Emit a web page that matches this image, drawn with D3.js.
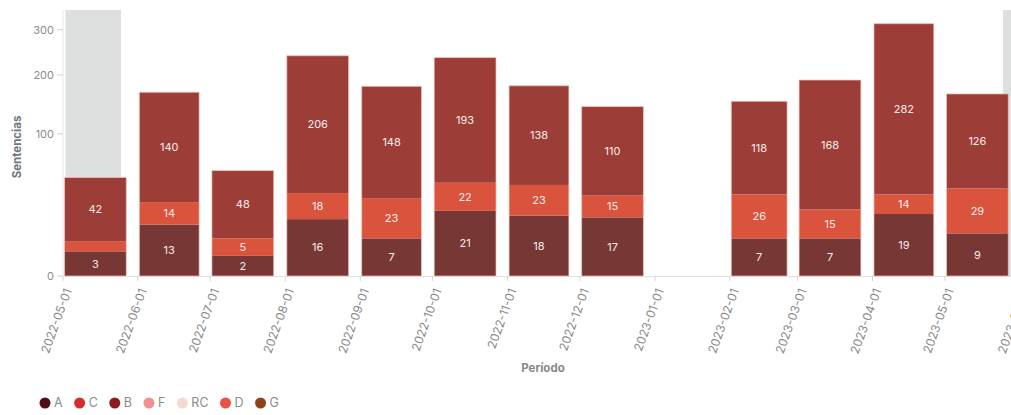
<!DOCTYPE html>
<html>
<head>
<meta charset="utf-8">
<script src="https://cdn.jsdelivr.net/npm/d3@7"></script>
<style>
  html, body { margin: 0; padding: 0; background: #fff; overflow: hidden; }
  svg { display: block; font-family: Inter, "Noto Sans", sans-serif; }
</style>
</head>
<body>
<svg id="chart" width="1011" height="415"></svg>
<script>
// ---- data ----
const months = ["2022-05-01","2022-06-01","2022-07-01","2022-08-01","2022-09-01","2022-10-01","2022-11-01","2022-12-01","2023-02-01","2023-03-01","2023-04-01","2023-05-01"];
const seriesA = [3, 13, 2, 16, 7, 21, 18, 17, 7, 7, 19, 9];
const seriesD = [3, 14, 5, 18, 23, 22, 23, 15, 26, 15, 14, 29];
const seriesB = [42, 140, 48, 206, 148, 193, 138, 110, 118, 168, 282, 126];
const stackKeys = ["A", "D", "B"];
const legendKeys = ["A", "C", "B", "F", "RC", "D", "G"];
const legendColors = ["#4e1014", "#d42d2b", "#8a1b20", "#f29090", "#f6d8d2", "#ea5248", "#8e421c"];
const barColors = { A: "#763735", D: "#d9533d", B: "#9d3d37" };
const yTicks = [0, 100, 200, 300];
const yMax = 350;
const highlightRanges = [["2022-05-02", "2022-05-25"], ["2023-05-25", "2023-06-30"]];
const xDomain = ["2022-05-01", "2023-05-01"];
const tickRange = ["2022-05-01", "2023-06-02"];

// ---- layout ----
const svg = d3.select("#chart");
const plotTop = 10, plotBottom = 276;
const parse = d3.utcParse("%Y-%m-%d");
const x = d3.scaleUtc().domain(xDomain.map(parse)).range([63, 945]);
const y = d3.scaleSqrt().domain([0, yMax]).range([plotBottom, plotTop]);

const rows = months.map((m, i) => ({ date: parse(m), A: seriesA[i], D: seriesD[i], B: seriesB[i] }));
const stacked = d3.stack().keys(stackKeys)(rows);

// highlight bands
svg.append("g").selectAll("rect").data(highlightRanges).join("rect")
  .attr("x", d => x(parse(d[0])))
  .attr("width", d => x(parse(d[1])) - x(parse(d[0])))
  .attr("y", plotTop).attr("height", plotBottom - plotTop)
  .attr("fill", "#dedfdf");

// y axis line
svg.append("line").attr("x1", x(parse(xDomain[0]))).attr("x2", x(parse(xDomain[0])))
  .attr("y1", plotTop).attr("y2", plotBottom).attr("stroke", "#e6e6e6");

// y axis ticks
const yAxis = svg.append("g");
yAxis.selectAll("line").data(yTicks).join("line")
  .attr("x1", 57).attr("x2", 63).attr("y1", d => y(d)).attr("y2", d => y(d))
  .attr("stroke", "#d0d0d0");
yAxis.selectAll("text").data(yTicks).join("text")
  .attr("x", 54).attr("y", d => y(d)).attr("dy", "0.35em")
  .attr("text-anchor", "end").attr("font-size", 11).attr("fill", "#8a8a8a")
  .text(d => d);

// x axis
const xTicks = d3.utcMonth.range(parse(tickRange[0]), parse(tickRange[1]));
const xAxis = svg.append("g");
xAxis.append("line").attr("x1", 60).attr("x2", 1011).attr("y1", plotBottom + 0.5).attr("y2", plotBottom + 0.5)
  .attr("stroke", "#e0e0e0");
xAxis.selectAll("line.tk").data(xTicks).join("line").attr("class", "tk")
  .attr("x1", d => x(d)).attr("x2", d => x(d)).attr("y1", plotBottom).attr("y2", plotBottom + 5)
  .attr("stroke", "#d6d6d6");
const fmt = d3.utcFormat("%Y-%m-%d");
xAxis.selectAll("text").data(xTicks).join("text")
  .attr("transform", d => `translate(${x(d) + 5},${plotBottom + 13}) rotate(-70)`)
  .attr("text-anchor", "end").attr("dy", "0.35em")
  .attr("font-size", 12).attr("fill", "#8a8a8a")
  .text(d => fmt(d));

// bars
function monthSpan(d) {
  const x0 = x(d), x1 = x(d3.utcMonth.offset(d, 1));
  const w = x1 - x0;
  return [x0 + 0.02 * w, 0.825 * w];
}
const barG = svg.append("g");
stacked.forEach(layer => {
  const key = layer.key;
  const g = barG.append("g");
  g.selectAll("rect").data(layer).join("rect")
    .attr("x", d => monthSpan(d.data.date)[0])
    .attr("width", d => monthSpan(d.data.date)[1])
    .attr("y", d => y(d[1]))
    .attr("height", d => y(d[0]) - y(d[1]))
    .attr("fill", barColors[key]);
  g.selectAll("text").data(layer.filter(d => y(d[0]) - y(d[1]) >= 13)).join("text")
    .attr("x", d => monthSpan(d.data.date)[0] + monthSpan(d.data.date)[1] / 2)
    .attr("y", d => (y(d[0]) + y(d[1])) / 2)
    .attr("dy", "0.35em").attr("text-anchor", "middle")
    .attr("font-size", 11).attr("fill", "#f8ecea")
    .text(d => d.data[key]);
});
// bar outlines
const last = stacked[stacked.length - 1];
barG.append("g").selectAll("rect").data(last).join("rect")
  .attr("x", d => monthSpan(d.data.date)[0])
  .attr("width", d => monthSpan(d.data.date)[1])
  .attr("y", d => y(d[1]))
  .attr("height", d => y(0) - y(d[1]))
  .attr("fill", "none").attr("stroke", "#f3c6be").attr("stroke-opacity", 0.7).attr("stroke-width", 1);

// axis titles
svg.append("text").attr("transform", `translate(21,${(plotTop + plotBottom) / 2 + 4}) rotate(-90)`)
  .attr("text-anchor", "middle").attr("font-size", 11.5).attr("font-weight", 700)
  .attr("fill", "#6f7680").text("Sentencias");
svg.append("text").attr("x", 543).attr("y", 372)
  .attr("text-anchor", "middle").attr("font-size", 11.5).attr("font-weight", 700)
  .attr("fill", "#878787").text("Período");

// legend
const leg = svg.append("g");
let lx = 45;
legendKeys.forEach((k, i) => {
  leg.append("circle").attr("cx", lx).attr("cy", 403).attr("r", 5.5).attr("fill", legendColors[i]);
  const t = leg.append("text").attr("x", lx + 9).attr("y", 403).attr("dy", "0.35em")
    .attr("font-size", 12.5).attr("fill", "#8a8a8a").text(k);
  const w = t.node().getComputedTextLength();
  lx = lx + 9 + w + 17;
});
</script>
</body>
</html>
